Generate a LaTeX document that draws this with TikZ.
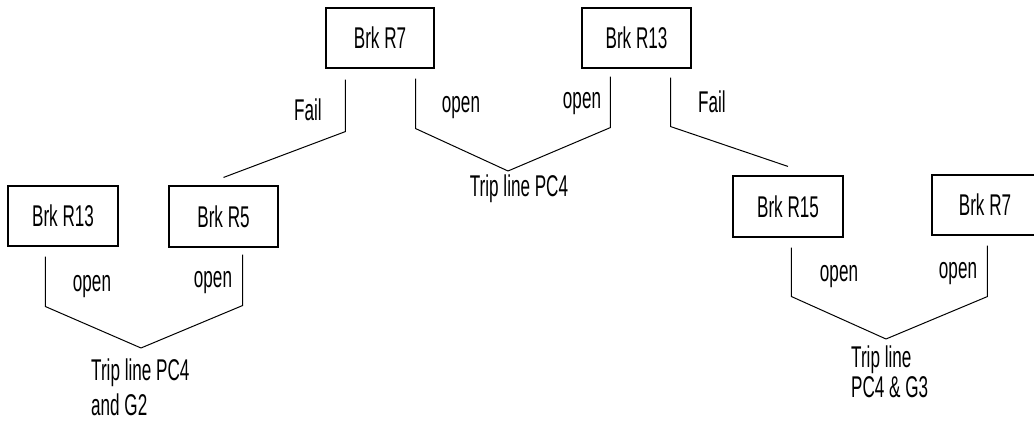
\documentclass[tikz,border=0pt]{standalone}
\usepackage{fontspec}
\setmainfont[FakeStretch=0.57]{Liberation Sans}
\begin{document}
\begin{tikzpicture}[x=1pt,y=-1pt,
  brk/.style={draw, line width=1.1pt, inner sep=0pt, font=\fontsize{30}{30}\selectfont},
  lbl/.style={inner sep=0pt, font=\fontsize{30}{30}\selectfont},
  wire/.style={line width=1pt, line join=miter}]
\useasboundingbox[fill=white] (0,0) rectangle (1034,422);

% breaker boxes
\node[brk, minimum width=108pt, minimum height=60pt] (r7)   at (380,38)    {Brk R7};
\node[brk, minimum width=109pt, minimum height=60pt] (r13)  at (636.5,38)  {Brk R13};
\node[brk, minimum width=110pt, minimum height=60pt] (r13b) at (63,216)    {Brk R13};
\node[brk, minimum width=109pt, minimum height=61pt] (r5)   at (223.5,216.5) {Brk R5};
\node[brk, minimum width=110pt, minimum height=61pt] (r15)  at (788,206.5) {Brk R15};
\node[brk, minimum width=106pt, minimum height=60pt] (r7b)  at (985,205)   {Brk R7};

% meeting points of the open branches
\coordinate (m1) at (508,171);
\coordinate (m2) at (141,348);
\coordinate (m3) at (886,339);

% outcome texts
\node[lbl] (t1) at (519,189) {Trip line PC4};
\node[lbl, anchor=west, align=left] (t2) at (91,387) {Trip line PC4\\[5pt]and G2};
\node[lbl, anchor=west, align=left] (t3) at (851,372) {Trip line\\PC4 \& G3};

% branches from the top breakers
\draw[wire] ([xshift=20pt,yshift=-11pt]r7.south west) -- ++(0,52) -- ([yshift=8pt]r5.north);
\draw[wire] ([xshift=-19pt,yshift=-10pt]r7.south east) -- ++(0,50) -- (m1);
\draw[wire] ([xshift=29pt,yshift=-8pt]r13.south west) -- ++(0,51) -- (m1);
\draw[wire] ([xshift=-21pt,yshift=-9pt]r13.south east) -- ++(0,49) -- ([yshift=9pt]r15.north);

% branches from the lower breakers
\draw[wire] ([xshift=38pt,yshift=-10pt]r13b.south west) -- ++(0,50) -- (m2);
\draw[wire] ([xshift=-36pt,yshift=-7pt]r5.south east) -- ++(0,51) -- (m2);
\draw[wire] ([xshift=59pt,yshift=-10pt]r15.south west) -- ++(0,49) -- (m3);
\draw[wire] ([xshift=56pt,yshift=-10pt]r7b.south west) -- ++(0,51) -- (m3);

% branch labels
\node[lbl] (f1) at (308,110) {Fail};
\node[lbl] (o1) at (461,108) {open};
\node[lbl] (o2) at (582,104) {open};
\node[lbl] (f2) at (712,102) {Fail};
\node[lbl] (o3) at (92,287)  {open};
\node[lbl] (o4) at (213,283) {open};
\node[lbl] (o5) at (839,277) {open};
\node[lbl] (o6) at (958,274) {open};
\end{tikzpicture}
\end{document}
